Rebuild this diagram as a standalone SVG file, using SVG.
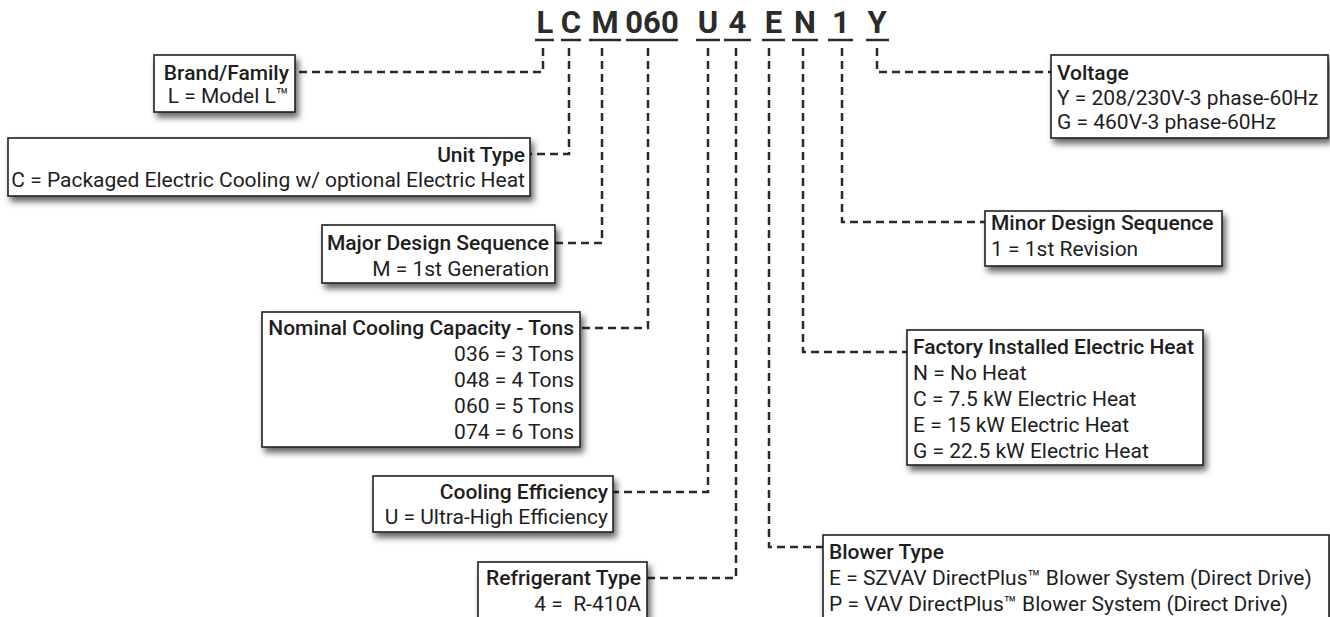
<svg xmlns="http://www.w3.org/2000/svg" width="1330" height="617" viewBox="0 0 1330 617">
<style>
.box{fill:#fff;stroke:#222;stroke-width:1.6;filter:url(#sh)}
.t{font-family:Roboto,"Liberation Sans",sans-serif;font-size:21px;fill:#1e1e1e}
.h{font-weight:500}
.r{text-anchor:end}
.code{font-family:Roboto,"Liberation Sans",sans-serif;font-size:31px;font-weight:700;fill:#2b2b2b;text-anchor:middle}
.ul{stroke:#2b2b2b;stroke-width:2.5}
.c{fill:none;stroke:#2a2a2a;stroke-width:2.5;stroke-dasharray:8 5}
</style>
<defs>
<filter id="sh" x="-10%" y="-20%" width="125%" height="160%">
<feDropShadow dx="3" dy="5" stdDeviation="3" flood-color="#000" flood-opacity="0.6"/>
</filter>
</defs>
<rect width="1330" height="617" fill="#fff"/>
<g id="code">
<text class="code" x="545" y="33">L</text>
<text class="code" x="571" y="33">C</text>
<text class="code" x="605" y="33">M</text>
<text class="code" x="652" y="33">060</text>
<text class="code" x="708" y="33">U</text>
<text class="code" x="737.5" y="33">4</text>
<text class="code" x="773.5" y="33">E</text>
<text class="code" x="805" y="33">N</text>
<text class="code" x="841" y="33">1</text>
<text class="code" x="877" y="33">Y</text>
<line class="ul" x1="535" y1="40" x2="554" y2="40"/>
<line class="ul" x1="561" y1="40" x2="581" y2="40"/>
<line class="ul" x1="589" y1="40" x2="621" y2="40"/>
<line class="ul" x1="626" y1="40" x2="678" y2="40"/>
<line class="ul" x1="696" y1="40" x2="720" y2="40"/>
<line class="ul" x1="724" y1="40" x2="751" y2="40"/>
<line class="ul" x1="762" y1="40" x2="785" y2="40"/>
<line class="ul" x1="792" y1="40" x2="818" y2="40"/>
<line class="ul" x1="828" y1="40" x2="853" y2="40"/>
<line class="ul" x1="866" y1="40" x2="889" y2="40"/>
</g>
<g id="connectors">
<polyline class="c" points="543,48 543,72 295,72"/>
<polyline class="c" points="569,48 569,154 530,154"/>
<polyline class="c" points="602,48 602,243 555,243"/>
<polyline class="c" points="648,48 648,328 580,328"/>
<polyline class="c" points="708,48 708,492 613,492"/>
<polyline class="c" points="736,48 736,578 647,578"/>
<polyline class="c" points="769,48 769,547 823,547"/>
<polyline class="c" points="803,48 803,352 907,352"/>
<polyline class="c" points="842,48 842,222 985,222"/>
<polyline class="c" points="877,48 877,72 1051,72"/>
</g>
<g id="brand">
<rect class="box" x="154" y="55" width="141" height="57"/>
<text class="t h r" x="289" y="80">Brand/Family</text>
<text class="t r" x="289" y="103">L = Model L™</text>
</g>
<g id="unit-type">
<rect class="box" x="8" y="138" width="522" height="58"/>
<text class="t h r" x="525" y="162">Unit Type</text>
<text class="t r" x="525" y="187">C = Packaged Electric Cooling w/ optional Electric Heat</text>
</g>
<g id="major-design">
<rect class="box" x="322" y="225" width="233" height="58"/>
<text class="t h r" x="549" y="250">Major Design Sequence</text>
<text class="t r" x="549" y="276">M = 1st Generation</text>
</g>
<g id="nominal-capacity">
<rect class="box" x="262" y="312" width="318" height="135"/>
<text class="t h r" x="574" y="335">Nominal Cooling Capacity - Tons</text>
<text class="t r" x="574" y="361">036 = 3 Tons</text>
<text class="t r" x="574" y="387">048 = 4 Tons</text>
<text class="t r" x="574" y="413">060 = 5 Tons</text>
<text class="t r" x="574" y="439">074 = 6 Tons</text>
</g>
<g id="cooling-efficiency">
<rect class="box" x="373" y="476" width="240" height="56"/>
<text class="t h r" x="608" y="499">Cooling Efficiency</text>
<text class="t r" x="608" y="524">U = Ultra-High Efficiency</text>
</g>
<g id="refrigerant">
<rect class="box" x="478" y="562" width="169" height="64"/>
<text class="t h r" x="641" y="585">Refrigerant Type</text>
<text class="t r" x="641" y="611" xml:space="preserve">4 =  R-410A</text>
</g>
<g id="voltage">
<rect class="box" x="1051" y="55" width="277" height="83"/>
<text class="t h" x="1057" y="80">Voltage</text>
<text class="t" x="1057" y="104.5">Y = 208/230V-3 phase-60Hz</text>
<text class="t" x="1057" y="129">G = 460V-3 phase-60Hz</text>
</g>
<g id="minor-design">
<rect class="box" x="985" y="211" width="237" height="55"/>
<text class="t h" x="991" y="230">Minor Design Sequence</text>
<text class="t" x="991" y="256">1 = 1st Revision</text>
</g>
<g id="electric-heat">
<rect class="box" x="907" y="330" width="296" height="135"/>
<text class="t h" x="913" y="354">Factory Installed Electric Heat</text>
<text class="t" x="913" y="380">N = No Heat</text>
<text class="t" x="913" y="406">C = 7.5 kW Electric Heat</text>
<text class="t" x="913" y="432">E = 15 kW Electric Heat</text>
<text class="t" x="913" y="458">G = 22.5 kW Electric Heat</text>
</g>
<g id="blower">
<rect class="box" x="823" y="535" width="506" height="92"/>
<text class="t h" x="829" y="559">Blower Type</text>
<text class="t" x="829" y="585">E = SZVAV DirectPlus™ Blower System (Direct Drive)</text>
<text class="t" x="829" y="611">P = VAV DirectPlus™ Blower System (Direct Drive)</text>
</g>
</svg>
